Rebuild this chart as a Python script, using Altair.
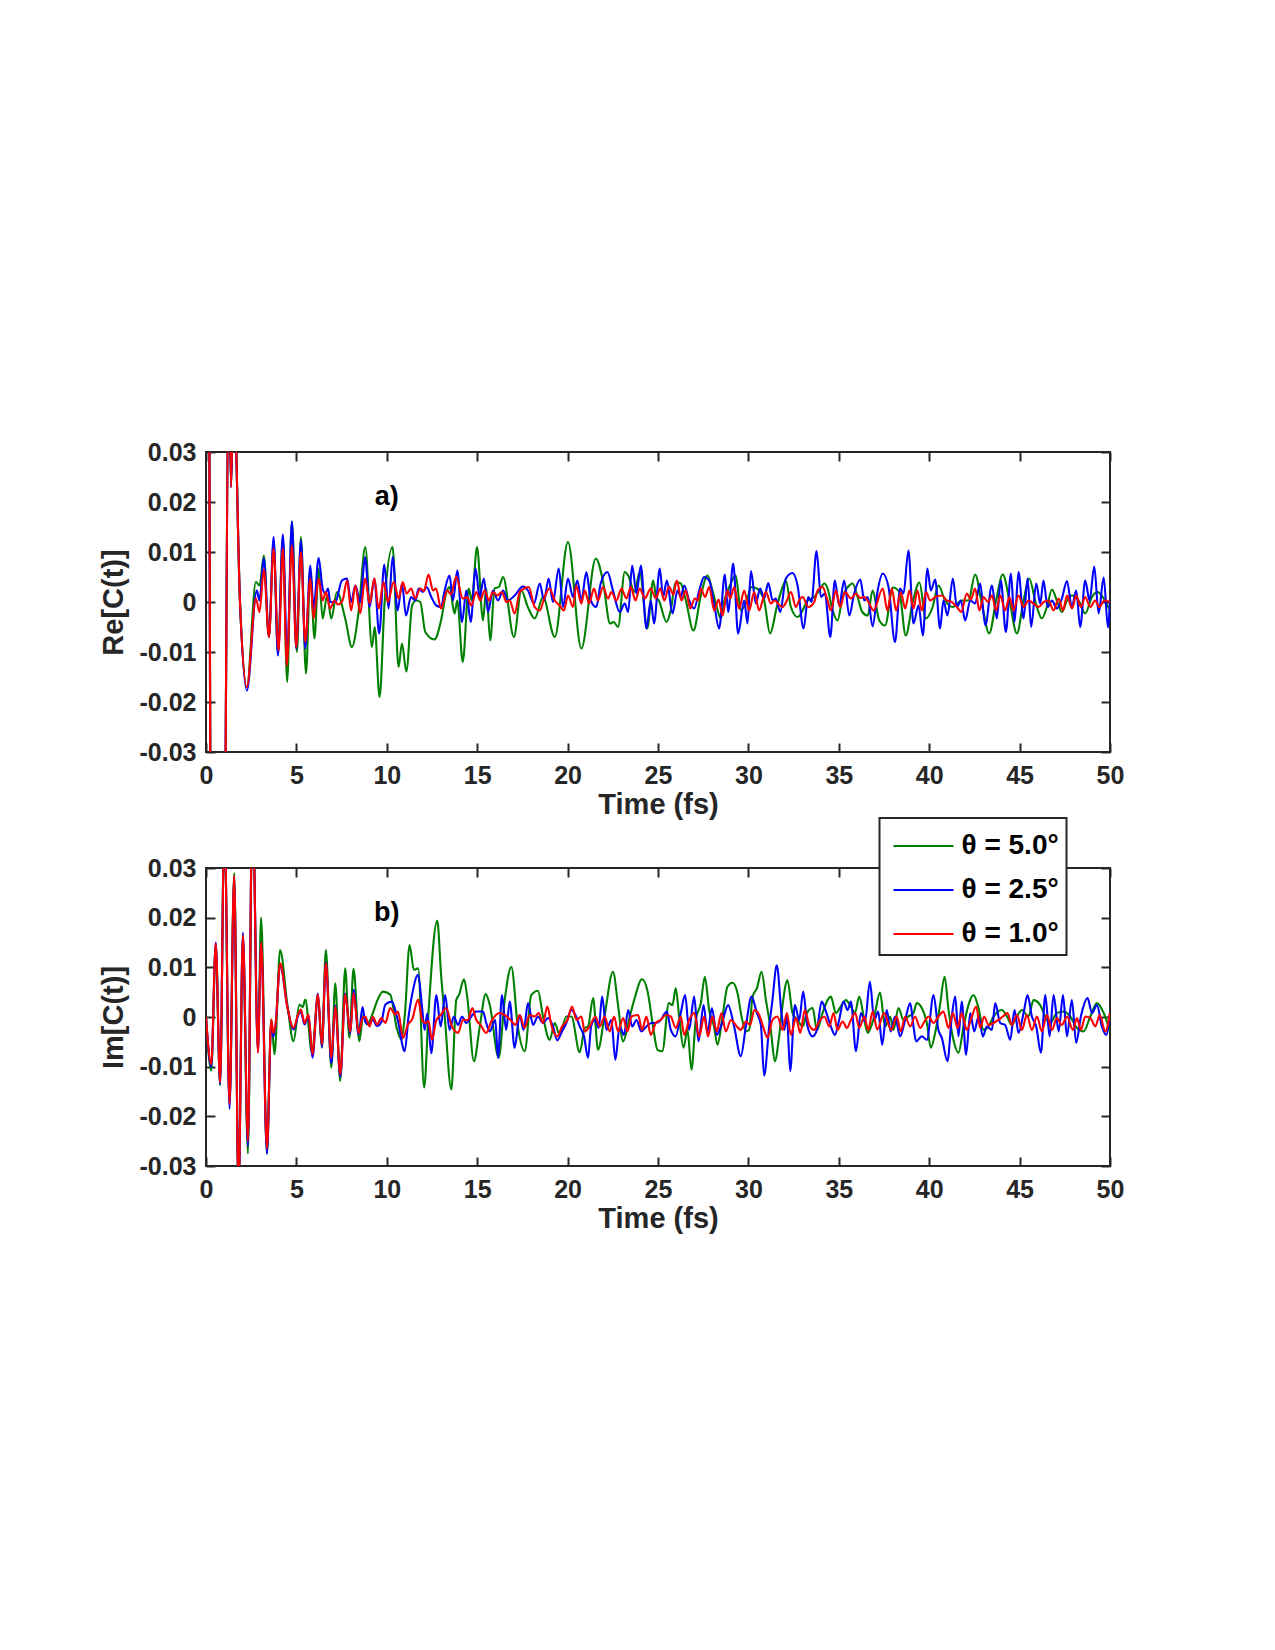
import altair as alt
import pandas as pd

# ---------------- data (values in units of 1e-3) ----------------
TIME_TICKS = [0, 5, 10, 15, 20, 25, 30, 35, 40, 45, 50]
Y_TICKS = [-0.03, -0.02, -0.01, 0.0, 0.01, 0.02, 0.03]
SERIES = ["θ = 5.0°", "θ = 2.5°", "θ = 1.0°"]
COLORS = ["#008000", "#0000ff", "#ff0000"]
PANEL_LETTERS = ["a)", "b)"]
LETTER_POS = (10.0, 0.021)

# Re[C(t)] : shared opening (curves coincide), then each angle
RE_START = [(0.0, 300), (0.6, -300), (1.0, -80), (1.27, 45), (1.39, 23), (1.52, 45), (1.88, 0)]

RE_GREEN = [(2.26,-17.0),(2.76,4.0),(2.96,3.3),(3.2,9.3),(3.48,-7.0),(3.74,12.0),(3.98,-10.3),(4.25,12.7),(4.49,-16.0),(4.75,16.1),(5.03,-10.0),(5.25,13.0),(5.53,-14.3),(5.77,6.0),(6.0,-7.3),(6.23,6.7),(6.45,-3.3),(6.7,1.3),(6.93,-3.3),(7.24,2.0),(7.7,-3.3),(8.07,-9.0),(8.44,-2.0),(8.81,11.0),(9.18,-9.0),(9.33,-5.0),(9.6,-19.0),(9.88,0.0),(10.32,11.0),(10.65,-13.0),(10.84,-8.3),(11.08,-13.9),(11.4,-0.7),(11.62,0.3),(11.85,0.0),(12.13,-6.0),(12.64,-7.5),(13.0,-3.7),(13.3,2.0),(13.47,3.0),(13.75,-2.3),(13.9,0.3),(14.2,-12.0),(14.53,2.7),(14.7,0.3),(14.99,11.0),(15.32,-3.7),(15.5,2.7),(15.72,-7.7),(15.96,2.7),(16.2,3.0),(16.43,5.0),(17.03,-7.0),(17.44,2.3),(17.8,-1.0),(18.18,-3.3),(18.64,1.0),(19.29,-7.0),(20.02,12.0),(20.76,-9.3),(21.56,8.7),(21.95,4.3),(22.35,-4.3),(22.55,-4.0),(22.79,-5.0),(23.16,6.0),(23.35,5.3),(23.7,2.0),(23.99,6.0),(24.41,-5.3),(24.73,4.3),(24.9,1.0),(25.05,0.3),(25.47,-4.0),(25.7,-1.7),(25.98,4.0),(26.26,3.7),(26.54,0.3),(26.96,-5.7),(27.37,1.3),(27.74,5.3),(28.01,2.3),(28.25,-1.0),(28.47,-3.3),(28.7,0.7),(28.94,3.0),(29.3,5.3),(29.58,-1.7),(29.95,0.7),(30.14,3.0),(30.47,2.7),(30.87,0.3),(31.2,-6.3),(31.57,-1.0),(31.89,3.0),(32.07,4.3),(32.35,-1.0),(32.72,-3.0),(33.0,-1.7),(33.27,0.3),(33.64,1.0),(33.92,2.3),(34.2,3.7),(34.38,2.7),(34.66,-1.7),(34.93,-3.7),(35.21,1.0),(35.5,3.0),(35.76,3.7),(36.04,1.0),(36.3,-2.0),(36.6,-2.7),(36.87,2.3),(37.24,-3.7),(37.56,-4.7),(37.99,2.9),(38.35,2.0),(38.7,-6.7),(39.09,0.0),(39.46,3.9),(39.81,-3.3),(40.18,-1.1),(40.51,3.3),(40.88,0.3),(41.3,-1.0),(41.8,0.3),(42.17,0.3),(42.54,5.5),(42.91,-0.3),(43.32,-6.3),(43.7,0.3),(44.07,5.5),(44.44,0.3),(44.85,-6.3),(45.22,0.3),(45.53,4.7),(45.9,-0.3),(46.23,-3.3),(46.51,-1.0),(46.79,2.5),(47.06,0.3),(47.34,-2.0),(47.62,0.3),(47.89,1.3),(48.26,0.3),(48.63,-2.3),(49.0,1.0),(49.31,2.0),(49.65,0.7),(50.0,-1.7)]

RE_BLUE = [(2.26,-17.7),(2.81,2.3),(2.96,0.3),(3.2,8.7),(3.48,-7.0),(3.74,13.0),(3.98,-10.7),(4.25,13.5),(4.49,-11.0),(4.75,16.1),(4.99,-9.3),(5.25,12.3),(5.49,-9.3),(5.77,7.3),(5.95,-1.3),(6.23,8.8),(6.45,2.7),(6.6,1.7),(6.75,2.7),(6.87,0.0),(7.15,0.0),(7.52,4.3),(7.8,4.7),(8.03,0.0),(8.26,3.3),(8.53,0.0),(8.8,9.0),(9.05,-1.0),(9.31,4.7),(9.58,-6.3),(9.86,7.5),(10.1,-1.3),(10.32,9.0),(10.6,-1.7),(10.84,3.7),(11.06,-2.7),(11.34,1.0),(11.58,0.3),(11.76,2.7),(12.0,2.0),(12.2,3.0),(12.46,1.0),(12.74,-0.7),(13.0,-1.0),(13.2,2.3),(13.47,5.3),(13.66,0.3),(13.9,6.3),(14.16,-4.0),(14.4,2.3),(14.64,-4.0),(14.91,6.7),(15.13,1.0),(15.37,4.7),(15.6,-2.0),(15.87,2.3),(16.15,0.3),(16.43,2.3),(16.7,0.3),(17.07,1.3),(17.53,3.1),(17.81,2.3),(18.14,-0.3),(18.46,3.7),(18.7,0.3),(18.95,4.7),(19.19,0.0),(19.51,6.7),(19.75,-1.0),(20.02,4.7),(20.3,1.0),(20.54,4.3),(20.76,0.3),(21.04,6.0),(21.28,0.3),(21.59,-1.0),(21.83,3.7),(22.2,6.0),(22.51,2.3),(22.88,-2.0),(23.16,-0.3),(23.35,-2.0),(23.57,7.3),(23.81,1.7),(24.05,7.3),(24.36,-5.3),(24.6,0.3),(24.78,-4.3),(25.1,6.7),(25.28,1.0),(25.49,4.3),(25.8,-2.3),(26.08,2.3),(26.26,1.0),(26.45,3.3),(26.72,0.3),(27.0,-1.3),(27.28,2.3),(27.55,5.0),(27.83,4.3),(28.1,-0.3),(28.38,-5.3),(28.7,5.5),(28.88,-2.0),(29.16,7.7),(29.43,-6.3),(29.77,0.3),(29.95,-4.3),(30.14,6.2),(30.41,-0.3),(30.65,2.7),(30.87,0.7),(31.1,3.8),(31.34,0.3),(31.52,0.7),(31.76,-2.0),(32.07,4.7),(32.44,5.8),(32.72,3.3),(33.05,-5.3),(33.31,1.0),(33.49,0.0),(33.77,10.2),(34.01,1.0),(34.23,1.7),(34.53,-7.0),(34.78,4.3),(35.02,-0.7),(35.3,4.3),(35.58,-2.7),(35.85,1.7),(36.19,4.5),(36.41,0.3),(36.6,1.0),(36.87,-4.9),(37.15,2.3),(37.43,5.7),(37.75,3.0),(38.11,-8.0),(38.39,2.7),(38.58,1.7),(38.85,10.3),(39.13,-4.3),(39.41,-0.7),(39.65,-6.7),(39.9,6.7),(40.09,2.3),(40.33,4.5),(40.6,-5.3),(40.79,0.3),(41.01,-2.7),(41.31,4.7),(41.53,-1.0),(41.75,0.3),(41.99,-3.7),(42.27,0.3),(42.54,-0.3),(42.82,3.7),(43.1,-4.7),(43.47,3.3),(43.74,-3.3),(43.96,4.3),(44.24,-6.0),(44.52,5.7),(44.72,-4.0),(44.94,6.0),(45.22,-3.3),(45.44,4.7),(45.64,-5.0),(45.92,3.7),(46.14,-0.3),(46.32,4.3),(46.55,-1.0),(46.79,0.3),(47.06,-1.3),(47.34,0.7),(47.62,4.2),(47.89,-1.0),(48.13,2.3),(48.35,-5.0),(48.63,4.3),(48.87,0.3),(49.13,7.1),(49.37,-2.3),(49.65,4.9),(49.89,-5.1),(50.0,0.5)]

RE_RED = [(2.26,-17.0),(2.76,0.7),(2.96,-2.0),(3.2,6.5),(3.48,-7.0),(3.74,10.7),(4.01,-9.7),(4.25,10.7),(4.47,-12.7),(4.75,11.3),(4.99,-9.0),(5.25,10.0),(5.49,-8.0),(5.77,4.7),(5.95,-3.3),(6.23,4.7),(6.45,0.3),(6.63,2.0),(6.87,-1.3),(7.1,0.3),(7.3,-0.5),(7.55,0.3),(7.8,4.3),(8.03,-1.7),(8.26,3.3),(8.53,-2.3),(8.8,4.7),(9.05,-0.3),(9.31,4.7),(9.55,-1.3),(9.82,4.0),(10.06,0.0),(10.38,4.0),(10.66,0.7),(10.88,4.0),(11.1,1.7),(11.34,2.7),(11.58,0.7),(11.85,2.7),(12.05,2.2),(12.31,5.5),(12.55,2.3),(12.72,2.7),(13.0,-1.3),(13.34,2.3),(13.55,1.5),(13.84,5.1),(14.2,0.7),(14.45,1.0),(14.67,-0.7),(14.95,2.0),(15.17,0.3),(15.41,2.3),(15.65,0.3),(15.87,2.0),(16.1,1.3),(16.37,2.0),(16.61,0.0),(16.8,0.3),(17.07,-2.3),(17.35,2.0),(17.6,2.7),(17.85,3.0),(18.18,-1.0),(18.46,-1.7),(18.73,1.0),(19.0,2.7),(19.29,0.3),(19.56,-0.7),(19.8,-1.7),(20.02,1.3),(20.3,-1.0),(20.48,3.3),(20.76,-0.3),(20.95,2.3),(21.19,-0.3),(21.46,2.7),(21.68,0.3),(21.96,3.0),(22.24,0.7),(22.42,2.0),(22.7,0.3),(22.98,2.7),(23.25,0.7),(23.5,3.0),(23.75,0.3),(23.99,2.7),(24.27,0.7),(24.6,2.7),(24.88,0.7),(25.12,2.7),(25.35,0.3),(25.61,3.1),(25.85,1.5),(26.04,4.3),(26.3,0.3),(26.54,2.3),(26.78,-1.3),(27.04,0.7),(27.2,0.3),(27.37,2.7),(27.6,1.0),(27.83,3.0),(28.11,-1.7),(28.35,0.5),(28.57,-2.7),(28.84,2.3),(29.0,0.7),(29.21,3.0),(29.49,-1.3),(29.77,2.3),(30.04,-1.7),(30.32,2.0),(30.6,-1.7),(30.8,0.5),(30.97,2.0),(31.24,-0.3),(31.46,0.3),(31.68,-0.5),(31.89,-1.0),(32.13,0.3),(32.35,2.0),(32.63,-1.0),(32.8,0.3),(33.0,1.0),(33.31,-1.0),(33.64,0.0),(33.83,2.3),(34.1,3.0),(34.38,0.3),(34.56,-1.7),(34.84,2.3),(35.08,-1.0),(35.34,2.0),(35.67,0.7),(35.95,1.7),(36.18,0.8),(36.41,1.0),(36.68,-0.3),(36.92,-1.7),(37.43,2.7),(37.69,-1.7),(37.93,2.7),(38.17,-1.7),(38.43,2.0),(38.67,-1.3),(38.91,2.3),(39.13,-1.3),(39.35,2.3),(39.59,-1.7),(39.83,2.0),(40.05,0.3),(40.33,1.0),(40.7,1.3),(40.97,0.3),(41.25,0.0),(41.53,-1.0),(41.77,-2.0),(42.08,1.7),(42.3,0.5),(42.54,2.7),(42.78,-1.7),(43.0,1.0),(43.25,0.0),(43.47,1.3),(43.7,-1.7),(43.93,1.3),(44.2,-1.7),(44.44,1.0),(44.66,-1.7),(44.94,1.3),(45.22,-1.0),(45.49,0.3),(45.77,-0.3),(46.05,-1.0),(46.33,0.0),(46.6,0.3),(46.88,-1.7),(47.16,0.7),(47.4,-1.7),(47.62,1.3),(47.9,-1.3),(48.13,1.3),(48.39,-1.0),(48.63,1.0),(48.91,-1.0),(49.18,0.3),(49.42,-1.0),(49.68,0.3),(50.0,0.0)]

# Im[C(t)]
IM_GREEN = [(0.0,0.0),(0.29,-10.8),(0.54,14.0),(0.78,-13.8),(1.02,40),(1.3,-17.5),(1.56,29.0),(1.8,-35),(2.04,16.0),(2.32,-27.5),(2.57,45),(2.87,-6.0),(3.05,20.0),(3.37,-27.5),(3.61,-0.5),(3.79,-7.5),(4.1,13.5),(4.5,2.5),(4.84,-4.9),(5.17,2.5),(5.35,2.0),(5.49,3.5),(5.86,-7.2),(6.19,4.0),(6.41,-6.2),(6.63,13.5),(6.93,-10.2),(7.15,6.8),(7.42,-12.9),(7.7,9.8),(7.93,-4.2),(8.16,9.7),(8.48,-4.9),(8.7,0.5),(8.9,-1.5),(9.2,0.5),(9.45,3.1),(9.79,5.1),(10.19,4.5),(10.55,-2.2),(10.8,-4.5),(11.0,0.5),(11.26,14.5),(11.5,9.5),(11.73,9.8),(12.07,-14.2),(12.3,0.5),(12.79,19.4),(13.01,8.1),(13.2,0.3),(13.57,-14.6),(13.84,3.4),(14.0,4.5),(14.27,7.6),(14.45,4.0),(14.82,-8.9),(15.14,-2.0),(15.47,4.6),(15.69,2.5),(16.19,-8.2),(16.52,3.4),(16.89,10.1),(17.25,-2.0),(17.63,-6.9),(17.99,4.4),(18.36,5.3),(18.64,0.1),(19.01,-4.6),(19.29,-1.2),(19.56,-3.6),(19.93,0.1),(20.21,0.1),(20.67,-7.1),(20.95,-2.2),(21.13,-1.9),(21.41,3.8),(21.68,-6.6),(22.05,0.4),(22.51,9.1),(22.79,2.4),(23.07,-4.9),(23.44,0.1),(23.68,3.4),(24.12,7.6),(24.41,5.4),(24.73,-2.0),(24.97,-6.6),(25.24,-6.9),(25.6,2.8),(25.8,2.4),(25.98,5.8),(26.17,0.1),(26.41,-6.2),(26.63,-2.6),(26.85,-10.6),(27.09,-0.6),(27.37,2.8),(27.59,8.1),(27.83,1.4),(28.1,-1.9),(28.29,-5.6),(28.57,0.1),(28.84,6.1),(29.12,6.9),(29.4,4.8),(29.62,0.1),(29.86,-2.9),(30.04,-2.6),(30.23,4.1),(30.47,5.8),(30.73,9.1),(30.97,3.4),(31.24,-2.6),(31.46,-8.9),(31.7,-3.9),(31.89,2.4),(32.16,7.4),(32.44,0.8),(32.72,-0.6),(33.0,-1.9),(33.24,0.8),(33.55,1.8),(33.79,-2.6),(34.1,0.8),(34.38,3.4),(34.56,4.1),(34.84,0.8),(35.15,2.4),(35.39,3.4),(35.67,2.1),(35.89,0.8),(36.13,4.1),(36.41,-0.6),(36.6,-3.2),(36.96,0.1),(37.28,4.9),(37.56,-1.9),(37.84,0.1),(38.02,-2.6),(38.3,1.8),(38.58,-0.6),(38.85,0.1),(39.13,0.8),(39.31,2.8),(39.59,1.8),(39.87,-1.2),(40.09,-6.2),(40.33,-3.2),(40.6,2.4),(40.85,8.1),(41.07,1.4),(41.34,-4.6),(41.62,-7.2),(41.9,-1.9),(42.17,2.4),(42.45,4.4),(42.73,1.8),(43.0,-2.6),(43.28,-1.9),(43.56,0.1),(44.02,1.4),(44.3,0.1),(44.57,-1.6),(44.85,0.1),(45.13,1.4),(45.49,0.1),(45.77,3.4),(46.14,2.4),(46.42,0.1),(46.69,-1.2),(47.06,0.8),(47.43,1.1),(47.8,0.1),(48.17,-2.2),(48.54,-2.9),(48.91,0.1),(49.28,2.8),(49.65,0.8),(50.0,-2.9)]

IM_BLUE = [(0.0,0.0),(0.29,-10.0),(0.54,15.0),(0.78,-13.5),(1.02,40),(1.3,-18.5),(1.56,28.0),(1.8,-35),(2.04,17.0),(2.32,-26.0),(2.57,45),(2.87,-7.0),(3.05,15.0),(3.37,-27.5),(3.61,-1.0),(3.72,-4.0),(3.85,-1.5),(4.1,10.5),(4.5,2.0),(4.84,-2.5),(5.12,0.5),(5.25,1.0),(5.45,-1.5),(5.67,0.3),(5.89,-8.2),(6.19,4.7),(6.41,-6.0),(6.63,11.0),(6.93,-9.3),(7.15,2.3),(7.43,-12.0),(7.7,4.7),(7.98,-3.3),(8.16,5.5),(8.44,-3.5),(8.66,2.0),(8.81,-1.0),(9.05,-1.5),(9.22,-0.5),(9.46,-1.8),(9.7,-1.0),(9.92,2.5),(10.28,3.1),(10.6,-0.5),(10.99,-6.9),(11.2,0.0),(11.4,4.5),(11.73,8.5),(11.95,2.0),(12.09,-2.6),(12.24,0.7),(12.46,-7.3),(12.74,4.4),(12.98,-1.9),(13.23,4.4),(13.47,-2.6),(13.71,0.1),(13.94,-1.6),(14.16,0.1),(14.4,-1.2),(14.67,0.1),(14.95,1.1),(15.32,1.1),(15.5,-1.2),(15.69,-2.9),(16.0,-0.6),(16.15,-8.2),(16.37,4.4),(16.6,-2.6),(16.8,3.1),(17.07,-6.2),(17.35,0.4),(17.57,-2.6),(17.81,2.8),(18.09,-1.6),(18.36,0.1),(18.64,-1.2),(18.92,-0.2),(19.19,-1.9),(19.43,-4.7),(19.65,-3.2),(19.93,-1.2),(20.21,1.4),(20.43,0.4),(20.67,-1.9),(20.91,-3.9),(21.13,-8.2),(21.3,-1.9),(21.5,-0.6),(21.72,-2.2),(21.91,4.1),(22.15,-2.6),(22.42,-0.6),(22.64,-8.6),(22.88,-1.9),(23.12,-3.6),(23.35,1.4),(23.57,-1.9),(23.81,-0.6),(24.08,-2.9),(24.36,-1.9),(24.64,-1.2),(24.88,-1.2),(25.15,-0.6),(25.49,1.1),(25.71,-2.6),(25.98,-3.9),(26.26,0.8),(26.5,4.4),(26.72,-2.6),(27.0,4.1),(27.24,-4.9),(27.52,2.4),(27.74,-3.2),(27.98,1.8),(28.25,-3.6),(28.51,-1.6),(28.88,2.4),(29.21,-1.9),(29.58,-7.9),(29.86,-1.9),(30.17,4.1),(30.47,0.8),(30.69,-1.6),(30.87,-11.8),(31.15,-1.9),(31.33,3.4),(31.57,10.4),(31.83,0.8),(31.98,-2.6),(32.13,0.1),(32.31,-10.9),(32.57,2.4),(32.81,-0.6),(33.03,5.1),(33.27,-1.9),(33.55,-3.9),(33.79,-2.6),(34.05,3.1),(34.29,1.1),(34.56,-1.9),(34.78,-3.6),(35.02,-0.6),(35.26,3.1),(35.49,1.4),(35.67,3.1),(35.95,-6.9),(36.22,0.8),(36.45,-0.9),(36.72,7.1),(36.96,-0.6),(37.18,1.1),(37.4,-5.6),(37.65,1.4),(37.87,-2.9),(38.11,0.1),(38.39,-3.9),(38.67,-0.6),(38.95,2.8),(39.13,-1.9),(39.28,-4.9),(39.59,-3.9),(39.87,-4.6),(40.24,4.4),(40.51,-2.6),(40.7,-4.2),(41.01,-8.9),(41.25,0.1),(41.44,4.1),(41.62,-3.9),(41.8,3.1),(42.04,-7.6),(42.27,0.8),(42.49,-2.9),(42.73,0.1),(42.97,-3.9),(43.19,-1.9),(43.47,-2.6),(43.65,2.8),(43.93,-1.2),(44.2,-1.6),(44.48,-4.6),(44.72,1.4),(44.94,-3.2),(45.22,0.8),(45.44,4.4),(45.68,0.1),(45.92,-1.9),(46.18,-7.2),(46.42,4.4),(46.66,-3.9),(46.88,4.4),(47.16,-2.9),(47.4,4.4),(47.62,-3.9),(47.89,3.4),(48.13,-5.2),(48.39,0.1),(48.76,3.8),(49.0,0.8),(49.28,2.4),(49.55,-1.9),(49.79,-3.6),(50.0,0.8)]

IM_RED = [(0.0,0.0),(0.29,-9.5),(0.54,14.8),(0.78,-13.2),(1.02,40),(1.3,-17.5),(1.56,28.5),(1.8,-35),(2.04,16.5),(2.32,-25.0),(2.57,45),(2.87,-7.2),(3.05,15.0),(3.37,-26.5),(3.61,-0.5),(3.72,-3.2),(3.85,-1.5),(4.1,10.8),(4.5,2.0),(4.84,-2.2),(5.12,0.8),(5.25,1.5),(5.45,-1.2),(5.67,0.5),(5.89,-7.5),(6.19,4.5),(6.41,-5.5),(6.63,10.8),(6.93,-8.2),(7.15,2.1),(7.43,-11.5),(7.7,4.5),(7.98,-2.9),(8.16,4.8),(8.44,-3.2),(8.66,-0.2),(8.81,0.1),(9.05,-1.9),(9.22,0.1),(9.46,-1.5),(9.7,-0.2),(9.92,-1.2),(10.19,1.8),(10.47,0.5),(10.62,1.1),(10.9,-4.2),(11.17,-1.5),(11.4,-0.5),(11.73,3.5),(11.95,-0.5),(12.13,-1.2),(12.3,-0.8),(12.5,-4.6),(12.74,-0.6),(12.98,0.4),(13.29,1.8),(13.57,-1.6),(13.94,-3.2),(14.21,-0.6),(14.49,-0.6),(14.73,1.8),(14.95,-0.6),(15.19,-1.6),(15.5,-3.2),(15.78,-0.9),(16.24,0.8),(16.52,0.4),(16.85,-0.6),(17.11,-1.6),(17.35,0.4),(17.62,-2.2),(17.9,0.4),(18.18,0.1),(18.4,0.8),(18.64,-1.2),(18.88,2.1),(19.1,-1.6),(19.43,-3.9),(19.69,-1.9),(19.99,-0.6),(20.25,2.1),(20.49,-0.6),(20.76,0.1),(20.95,-2.9),(21.22,-1.9),(21.54,0.1),(21.78,-1.9),(22.05,0.1),(22.33,-2.9),(22.57,0.1),(22.79,-2.9),(23.07,-0.2),(23.31,-2.9),(23.53,0.1),(23.9,0.4),(24.12,-2.6),(24.36,0.1),(24.6,-3.6),(24.88,-1.2),(25.15,-0.6),(25.43,0.4),(25.71,0.1),(25.98,-2.2),(26.26,0.1),(26.45,-3.6),(26.72,-0.6),(27.0,0.8),(27.28,-3.9),(27.55,0.1),(27.77,-3.9),(28.01,0.1),(28.25,-2.9),(28.51,0.8),(28.75,-2.9),(29.03,-0.6),(29.36,-1.9),(29.58,-2.6),(29.86,-0.9),(30.1,-1.6),(30.32,1.4),(30.6,0.4),(30.87,-2.6),(31.06,-4.2),(31.33,-0.6),(31.6,0.1),(31.89,-2.6),(32.13,0.8),(32.35,-3.6),(32.63,-0.2),(32.87,-3.2),(33.12,1.4),(33.36,-1.6),(33.64,-2.6),(33.92,-0.9),(34.2,0.1),(34.47,-1.9),(34.71,0.8),(34.93,-2.6),(35.21,-0.9),(35.45,-2.2),(35.67,-0.6),(35.91,0.8),(36.13,-2.2),(36.41,0.1),(36.63,-2.6),(36.87,1.1),(37.13,-2.5),(37.5,0.8),(37.9,-2.6),(38.2,0.1),(38.43,-2.9),(38.67,0.1),(38.95,-1.9),(39.22,0.1),(39.5,-2.2),(39.74,-0.9),(39.96,0.1),(40.24,-1.2),(40.51,0.1),(40.79,1.1),(41.07,-2.2),(41.31,0.8),(41.57,-2.2),(41.8,0.8),(42.08,-2.6),(42.36,0.1),(42.6,2.1),(42.82,-2.2),(43.04,0.1),(43.28,-1.6),(43.56,-1.2),(43.83,-0.6),(44.07,0.1),(44.33,0.8),(44.57,-1.6),(44.85,0.4),(45.13,-2.6),(45.4,0.4),(45.68,-2.6),(45.96,0.1),(46.23,-2.9),(46.51,0.4),(46.79,-2.6),(47.06,-0.2),(47.34,-1.6),(47.62,0.1),(47.95,-2.6),(48.17,-0.2),(48.39,-2.6),(48.63,0.1),(48.91,-0.2),(49.19,-1.9),(49.43,0.4),(49.74,-2.9),(50.0,0.8)]

# ---------------- build tables ----------------
def table(series_lists):
    rows = []
    for name, pts in zip(SERIES, series_lists):
        for t, v in pts:
            rows.append({"t": t, "v": v / 1000.0, "series": name})
    return pd.DataFrame(rows)

df_re = table([RE_START + RE_GREEN, RE_START + RE_BLUE, RE_START + RE_RED])
df_im = table([IM_GREEN, IM_BLUE, IM_RED])

FONT = "Liberation Sans"
INK = "#262626"
W = 904
H_A, H_B = 300, 298
TICK = 9

LABEL_EXPR = "datum.value == 0 ? '0' : (datum.value < 0 ? '-' : '') + format(abs(datum.value), '.2f')"


def panel(df, ytitle, letter, legend, height):
    xs = alt.Scale(domain=[0, 50], nice=False, zero=False)
    ys = alt.Scale(domain=[-0.03, 0.03], nice=False, zero=False)
    x_axis = alt.Axis(values=TIME_TICKS, title="Time (fs)", orient="bottom", offset=-TICK,
                      tickSize=TICK, domain=False, grid=False, labelPadding=11,
                      titlePadding=2, format="d", labelFlush=False, labelOverlap=False)
    y_axis = alt.Axis(values=Y_TICKS, title=ytitle, orient="left", offset=-TICK,
                      tickSize=TICK, domain=False, grid=False, labelPadding=10,
                      titlePadding=11, labelExpr=LABEL_EXPR, labelOverlap=False)
    color = alt.Color("series:N", scale=alt.Scale(domain=SERIES, range=COLORS), legend=legend)
    layers = []
    for i, name in enumerate(SERIES):
        layers.append(
            alt.Chart(df)
            .transform_filter(alt.datum.series == name)
            .mark_line(interpolate="monotone", clip=True, strokeWidth=2.1)
            .encode(
                x=alt.X("t:Q", scale=xs, axis=x_axis if i == 0 else None),
                y=alt.Y("v:Q", scale=ys, axis=y_axis if i == 0 else None),
                color=color,
            )
        )
    lab = pd.DataFrame({"t": [LETTER_POS[0]], "v": [LETTER_POS[1]], "label": [letter]})
    txt = (
        alt.Chart(lab)
        .mark_text(font=FONT, fontSize=27, fontWeight="bold", color="#000000",
                   align="center", baseline="middle")
        .encode(
            x=alt.X("t:Q", scale=xs, axis=alt.Axis(orient="top", values=TIME_TICKS, labels=False,
                                                   title=None, offset=-TICK, tickSize=TICK,
                                                   domain=False, grid=False)),
            y=alt.Y("v:Q", scale=ys, axis=alt.Axis(orient="right", values=Y_TICKS, labels=False,
                                                   title=None, offset=-TICK, tickSize=TICK,
                                                   domain=False, grid=False)),
            text="label:N",
        )
    )
    return (
        alt.layer(*layers, txt)
        .resolve_axis(x="independent", y="independent")
        .properties(width=W, height=height)
    )


legend_b = alt.Legend(
    orient="none", legendX=673.5, legendY=-50, title=None,
    symbolType="M-1.5,0H1.5", symbolSize=1600, symbolStrokeWidth=2,
    symbolOffset=16, labelOffset=17,
    labelFont=FONT, labelFontSize=28, labelFontWeight="bold", labelColor="#000000",
    strokeColor=INK, fillColor="white", padding=7, rowPadding=9, direction="vertical",
)

pa = panel(df_re, "Re[C(t)]", PANEL_LETTERS[0], None, H_A)
pb = panel(df_im, "Im[C(t)]", PANEL_LETTERS[1], legend_b, H_B)

chart = (
    alt.vconcat(pa, pb, spacing=-4)
    .resolve_legend(color="independent")
    .properties(padding={"left": 98, "top": 439, "right": 0, "bottom": 0}, background="white")
    .configure_view(stroke=INK, strokeWidth=2)
    .configure_axis(labelFont=FONT, labelFontSize=25, labelFontWeight="bold", labelColor=INK,
                    titleFont=FONT, titleFontSize=29, titleFontWeight="bold", titleColor=INK,
                    tickColor=INK, tickWidth=2)
    .configure_legend(strokeWidth=2)
)

chart.save("out.html", embed_options={"renderer": "svg", "actions": False})
